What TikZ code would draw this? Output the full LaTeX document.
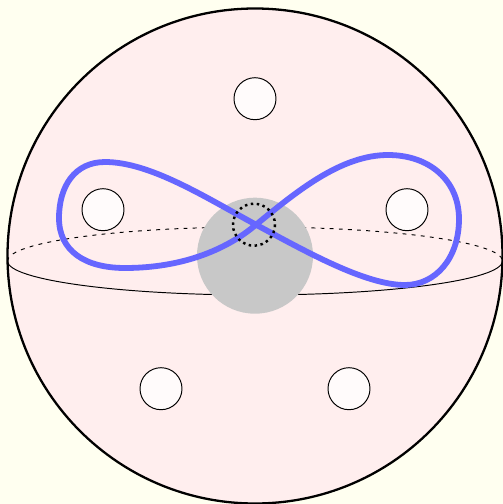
\documentclass[tikz,border=0pt]{standalone}
\usepackage{tikz}
\definecolor{ivorybg}{HTML}{FFFFF0}
\definecolor{spherepink}{HTML}{FFEEEE}
\definecolor{coregray}{HTML}{C8C8C8}
\definecolor{holewhite}{HTML}{FFFBFB}
\definecolor{loopblue}{HTML}{6666FF}

\begin{document}
\begin{tikzpicture}[x=0.02cm, y=-0.02cm,
    sphere/.style={draw=black, line width=1.3pt, fill=spherepink},
    hole/.style={draw=black, line width=0.55pt, fill=holewhite},
    loopline/.style={draw=loopblue, line width=3.3pt, line join=round}]

  % Background
  \fill[ivorybg] (0,0) rectangle (503,504);
  \useasboundingbox (0,0) rectangle (503,504);

  % Sphere and equator
  \draw[sphere] (255,256) circle [radius=247.5];
  \draw[line width=0.55pt, dash pattern=on 2.2pt off 3pt] (7.5,261) arc [start angle=180, end angle=360, x radius=247.5, y radius=34];
  \draw[line width=0.55pt] (7.5,261) arc [start angle=180, end angle=0, x radius=247.5, y radius=34];

  % Core
  \fill[coregray] (255,255.7) circle [radius=58];

  % Holes
  \foreach \hx/\hy in {255/98.7, 103/209.7, 407/209.7, 161/388.7, 349/388.7}
    \draw[hole] (\hx,\hy) circle [radius=21];

  % Figure eight
  \draw[loopline] (256,224.7)
    .. controls (205,197) and (150,162) .. (105,162)
    .. controls (75,162) and (59,186) .. (59,218)
    .. controls (59,251) and (85,268) .. (125,268)
    .. controls (180,268) and (225,251) .. (256,224.7)
    .. controls (295,193) and (340,155) .. (388,155)
    .. controls (430,155) and (459,181) .. (459,219)
    .. controls (459,259) and (435,285) .. (405,285)
    .. controls (365,285) and (305,251) .. (256,224.7) -- cycle;

  % Dotted circle
  \draw[line width=1.4pt, dotted] (254,224.7) circle [radius=21];
\end{tikzpicture}
\end{document}
